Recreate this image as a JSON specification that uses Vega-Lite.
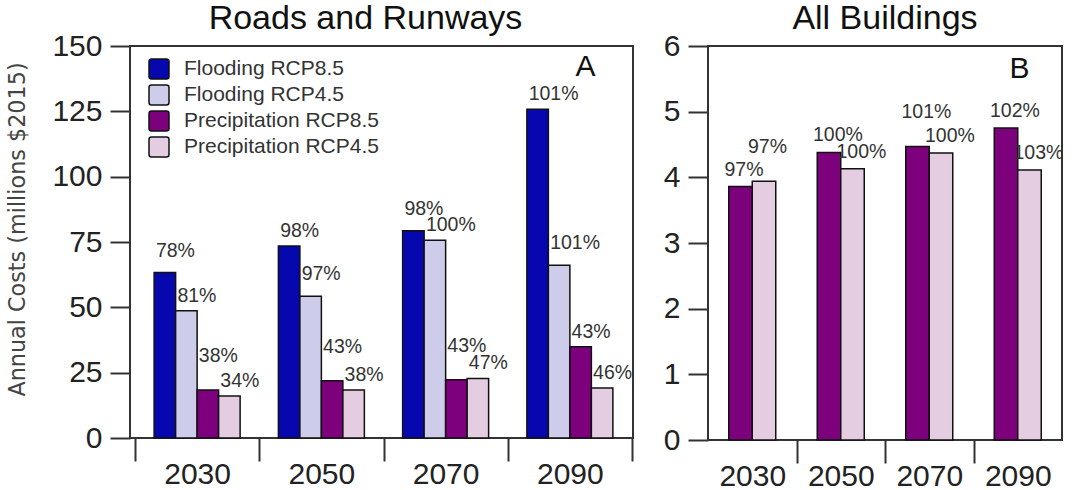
{
  "$schema": "https://vega.github.io/schema/vega-lite/v6.json",
  "background": "white",
  "padding": {"left": 5, "top": 1, "right": 5, "bottom": 0},
  "config": {
    "font": "Liberation Sans",
    "view": {"stroke": "#333", "strokeWidth": 2},
    "axis": {"grid": false, "domain": false, "tickColor": "#333", "tickWidth": 2, "labelFont": "Liberation Sans", "labelColor": "#222", "labelFontSize": 30},
    "title": {"fontSize": 34, "fontWeight": "normal", "color": "#111", "font": "Liberation Sans"},
    "text": {"baseline": "middle", "fontSize": 19.5, "color": "#333"}
  },
  "spacing": 28,
  "resolve": {"scale": {"color": "independent", "xOffset": "independent", "x": "independent", "y": "independent"}},
  "hconcat": [
    {
      "width": 503,
      "height": 392,
      "title": {"text": "Roads and Runways", "offset": -5, "dx": -16},
      "data": {"values": [
        {"year": "2030", "scenario": "Flooding RCP8.5", "cost": 63.3, "label": "78%"},
        {"year": "2030", "scenario": "Flooding RCP4.5", "cost": 48.7, "label": "81%"},
        {"year": "2030", "scenario": "Precipitation RCP8.5", "cost": 18.4, "label": "38%"},
        {"year": "2030", "scenario": "Precipitation RCP4.5", "cost": 16.1, "label": "34%"},
        {"year": "2050", "scenario": "Flooding RCP8.5", "cost": 73.5, "label": "98%"},
        {"year": "2050", "scenario": "Flooding RCP4.5", "cost": 54.2, "label": "97%"},
        {"year": "2050", "scenario": "Precipitation RCP8.5", "cost": 21.9, "label": "43%"},
        {"year": "2050", "scenario": "Precipitation RCP4.5", "cost": 18.4, "label": "38%"},
        {"year": "2070", "scenario": "Flooding RCP8.5", "cost": 79.3, "label": "98%"},
        {"year": "2070", "scenario": "Flooding RCP4.5", "cost": 75.7, "label": "100%"},
        {"year": "2070", "scenario": "Precipitation RCP8.5", "cost": 22.3, "label": "43%"},
        {"year": "2070", "scenario": "Precipitation RCP4.5", "cost": 22.8, "label": "47%"},
        {"year": "2090", "scenario": "Flooding RCP8.5", "cost": 125.8, "label": "101%"},
        {"year": "2090", "scenario": "Flooding RCP4.5", "cost": 66.1, "label": "101%"},
        {"year": "2090", "scenario": "Precipitation RCP8.5", "cost": 34.9, "label": "43%"},
        {"year": "2090", "scenario": "Precipitation RCP4.5", "cost": 19.1, "label": "46%"}
      ]},
      "encoding": {
        "x": {"field": "year", "type": "nominal", "scale": {"paddingInner": 0, "paddingOuter": 0, "range": [5, 502]},
              "axis": {"title": null, "labelAngle": 0, "tickBand": "extent", "tickSize": 23, "labelPadding": -2}},
        "xOffset": {"field": "scenario", "type": "nominal", "scale": {"domain": ["Flooding RCP8.5", "Flooding RCP4.5", "Precipitation RCP8.5", "Precipitation RCP4.5"], "paddingInner": 0, "paddingOuter": 0.89}},
        "y": {"field": "cost", "type": "quantitative", "scale": {"domain": [0, 150]},
              "axis": {"values": [0, 25, 50, 75, 100, 125, 150], "tickSize": 20, "labelPadding": 8,
                       "title": "Annual Costs (millions $2015)", "titleFontSize": 22.3, "titleColor": "#444",
                       "titleFontWeight": "normal", "titlePadding": 22, "titleFont": "DejaVu Sans", "titleY": 183}}
      },
      "layer": [
        {
          "mark": {"type": "bar", "stroke": "#111", "strokeWidth": 1.5},
          "encoding": {
            "color": {"field": "scenario", "type": "nominal",
                      "scale": {"domain": ["Flooding RCP8.5", "Flooding RCP4.5", "Precipitation RCP8.5", "Precipitation RCP4.5"],
                                "range": ["#0707B0", "#CDCDEB", "#7D007D", "#E5CDE1"]},
                      "legend": {"orient": "none", "legendX": 18, "legendY": 12, "title": null,
                                 "symbolType": "M-0.75,-1H0.75Q1,-1 1,-0.75V0.75Q1,1 0.75,1H-0.75Q-1,1 -1,0.75V-0.75Q-1,-1 -0.75,-1Z",
                                 "symbolSize": 400, "symbolStrokeColor": "#111", "symbolStrokeWidth": 1.5, "symbolOpacity": 1,
                                 "labelFontSize": 21, "labelColor": "#333", "labelFont": "Liberation Sans", "labelOffset": 14, "labelLimit": 0, "rowPadding": 0, "padding": 0}}
          }
        },
        {
          "transform": [{"filter": "!((datum.scenario == 'Precipitation RCP8.5' && datum.year != '2090') || (datum.scenario == 'Flooding RCP8.5' && (datum.year == '2030' || datum.year == '2070')) || (datum.scenario == 'Flooding RCP4.5' && (datum.year == '2050' || datum.year == '2090')))"}],
          "mark": {"type": "text", "align": "left", "dx": -9, "dy": -15},
          "encoding": {"text": {"field": "label"}}
        },
        {
          "transform": [{"filter": "(datum.scenario == 'Flooding RCP8.5' && (datum.year == '2030' || datum.year == '2070')) || (datum.scenario == 'Flooding RCP4.5' && (datum.year == '2050' || datum.year == '2090'))"}],
          "mark": {"type": "text", "align": "left", "dx": -9, "dy": -22},
          "encoding": {"text": {"field": "label"}}
        },
        {
          "transform": [{"filter": "datum.scenario == 'Precipitation RCP8.5' && datum.year != '2090'"}],
          "mark": {"type": "text", "align": "left", "dx": -9, "dy": -34},
          "encoding": {"text": {"field": "label"}}
        },
        {
          "transform": [{"filter": "datum.year == '2090' && datum.scenario == 'Flooding RCP8.5'"}],
          "mark": {"type": "text", "fontSize": 30, "color": "#111", "dx": 5, "baseline": "middle"},
          "encoding": {
            "xOffset": {"datum": "Precipitation RCP8.5"},
            "y": {"datum": 142, "type": "quantitative"},
            "text": {"value": "A"}
          }
        }
      ]
    },
    {
      "width": 354,
      "height": 394,
      "title": {"text": "All Buildings", "offset": -5},
      "data": {"values": [
        {"year": "2030", "scenario": "Precipitation RCP8.5", "cost": 3.86, "label": "97%"},
        {"year": "2030", "scenario": "Precipitation RCP4.5", "cost": 3.94, "label": "97%"},
        {"year": "2050", "scenario": "Precipitation RCP8.5", "cost": 4.38, "label": "100%"},
        {"year": "2050", "scenario": "Precipitation RCP4.5", "cost": 4.13, "label": "100%"},
        {"year": "2070", "scenario": "Precipitation RCP8.5", "cost": 4.47, "label": "101%"},
        {"year": "2070", "scenario": "Precipitation RCP4.5", "cost": 4.37, "label": "100%"},
        {"year": "2090", "scenario": "Precipitation RCP8.5", "cost": 4.75, "label": "102%"},
        {"year": "2090", "scenario": "Precipitation RCP4.5", "cost": 4.11, "label": "103%"}
      ]},
      "encoding": {
        "x": {"field": "year", "type": "nominal", "scale": {"paddingInner": 0, "paddingOuter": 0},
              "axis": {"title": null, "labelAngle": 0, "tickBand": "extent", "tickSize": 23, "labelPadding": -2,
                       "tickOpacity": {"condition": {"test": "datum.extra || datum.index == 1", "value": 0}, "value": 1}}},
        "xOffset": {"field": "scenario", "type": "nominal", "scale": {"domain": ["Precipitation RCP8.5", "Precipitation RCP4.5"], "paddingInner": 0, "paddingOuter": 0.883}},
        "y": {"field": "cost", "type": "quantitative", "scale": {"domain": [0, 6]},
              "axis": {"values": [0, 1, 2, 3, 4, 5, 6], "tickSize": 20, "labelPadding": 8, "title": null}}
      },
      "layer": [
        {
          "mark": {"type": "bar", "stroke": "#111", "strokeWidth": 1.5},
          "encoding": {
            "color": {"field": "scenario", "type": "nominal",
                      "scale": {"domain": ["Precipitation RCP8.5", "Precipitation RCP4.5"], "range": ["#7D007D", "#E5CDE1"]},
                      "legend": null}
          }
        },
        {
          "transform": [{"filter": "!((datum.year == '2030' && datum.scenario == 'Precipitation RCP4.5') || (datum.year == '2070' && datum.scenario == 'Precipitation RCP8.5'))"}],
          "mark": {"type": "text", "align": "left", "dx": -16, "dy": -17},
          "encoding": {"text": {"field": "label"}}
        },
        {
          "transform": [{"filter": "(datum.year == '2030' && datum.scenario == 'Precipitation RCP4.5') || (datum.year == '2070' && datum.scenario == 'Precipitation RCP8.5')"}],
          "mark": {"type": "text", "align": "left", "dx": -16, "dy": -34},
          "encoding": {"text": {"field": "label"}}
        },
        {
          "transform": [{"filter": "datum.year == '2090' && datum.scenario == 'Precipitation RCP8.5'"}],
          "mark": {"type": "text", "fontSize": 30, "color": "#111", "dx": -10, "baseline": "middle"},
          "encoding": {
            "xOffset": {"datum": "Precipitation RCP4.5"},
            "y": {"datum": 5.65, "type": "quantitative"},
            "text": {"value": "B"}
          }
        }
      ]
    }
  ]
}
